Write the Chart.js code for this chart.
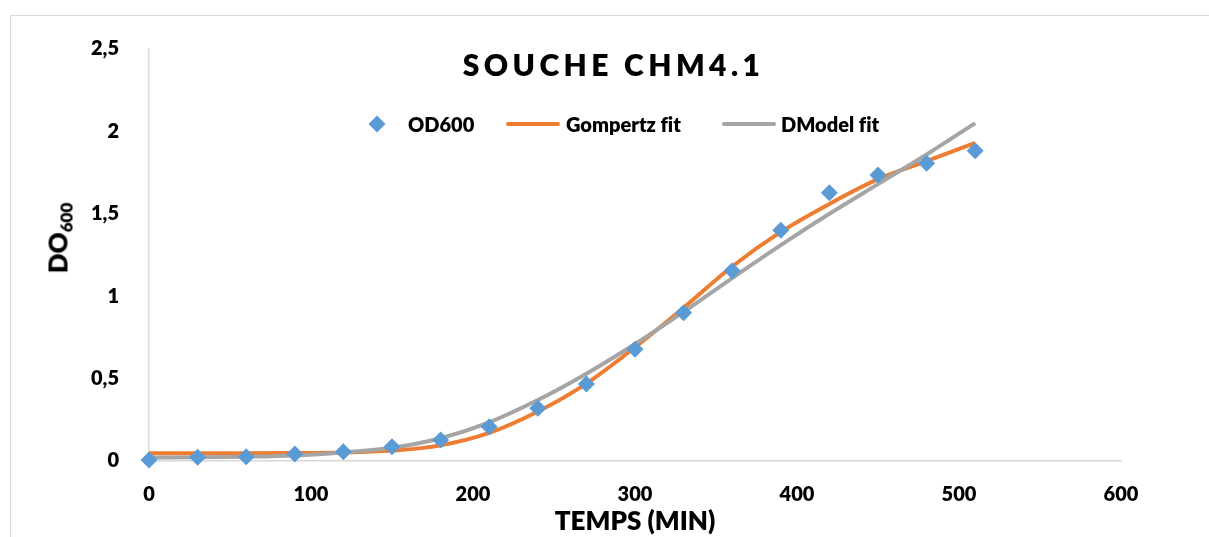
<!DOCTYPE html>
<html>
<head>
<meta charset="utf-8">
<script src="https://cdn.jsdelivr.net/npm/chart.js@4.4.1/dist/chart.umd.min.js"></script>
<style>
  html, body { margin: 0; padding: 0; background: #fff; overflow: hidden; }
  #wrap { position: relative; width: 1209px; height: 537px; font-family: Lato, "Open Sans", sans-serif; font-variant-ligatures: none; }
  #frame { position: absolute; left: 10px; top: 15px; width: 1240px; height: 560px; border: 1.5px solid #d9d9d9; box-sizing: border-box; }
  canvas { position: absolute; left: 0; top: 0; }
  .txt { position: absolute; font-weight: 800; color: #000; white-space: nowrap; }
  #title { left: 0; width: 1227px; top: 46px; text-align: center; font-size: 30px; letter-spacing: 4.4px; line-height: 36px; }
  #ytitle { left: 62px; top: 238px; font-size: 26px; line-height: 30px; transform: translate(-50%, -50%) rotate(-90deg); }
  #ytitle sub { font-size: 17px; vertical-align: -5px; }
  .leg { position: absolute; top: 124px; height: 0; }
  .leg span { position: absolute; font-weight: 800; font-size: 20px; line-height: 24px; top: -12px; white-space: nowrap; }
  .swatch-line { position: absolute; height: 4px; top: -2px; border-radius: 2px; }
  .swatch-dia { position: absolute; width: 12px; height: 12px; left: -6px; top: -6px; transform: rotate(45deg); }
</style>
</head>
<body>
<div id="wrap">
  <div id="frame"></div>
  <canvas id="chart" width="1209" height="537"></canvas>
  <div id="title" class="txt">SOUCHE CHM4.1</div>
  <div id="ytitle" class="txt">DO<sub>600</sub></div>
  <div id="legend"></div>
</div>
<script>
// Sampling times (min)
const times = [0, 30, 60, 90, 120, 150, 180, 210, 240, 270, 300, 330, 360, 390, 420, 450, 480, 510];
// Measured optical density
const od600 = [0.006, 0.022, 0.026, 0.042, 0.056, 0.087, 0.127, 0.208, 0.32, 0.467, 0.678, 0.90, 1.155, 1.40, 1.628, 1.735, 1.806, 1.883];
// Fitted curves evaluated at the same times
const gompertzFit = [0.047, 0.047, 0.047, 0.048, 0.051, 0.063, 0.095, 0.17, 0.30, 0.47, 0.69, 0.93, 1.18, 1.39, 1.56, 1.71, 1.82, 1.93];
const dmodelFit = [0.021, 0.022, 0.026, 0.034, 0.052, 0.08, 0.138, 0.235, 0.37, 0.53, 0.71, 0.905, 1.11, 1.31, 1.50, 1.68, 1.86, 2.05];

const xTicks = [0, 100, 200, 300, 400, 500, 600];
const yTicks = [0, 0.5, 1, 1.5, 2, 2.5];

const seriesNames = ['OD600', 'Gompertz fit', 'DModel fit'];
const colors = { od: '#5b9bd5', gompertz: '#ed7d31', dmodel: '#a5a5a5' };

const pts = (ys) => times.map((t, i) => ({ x: t, y: ys[i] }));
const fontFamily = 'Lato, "Open Sans", sans-serif';
const tickFont = { family: fontFamily, size: 20, weight: '800' };

new Chart(document.getElementById('chart'), {
  type: 'scatter',
  data: {
    datasets: [
      {
        label: seriesNames[0], data: pts(od600), clip: false,
        pointStyle: 'rectRot', pointRadius: 8.5, pointHoverRadius: 8.5,
        backgroundColor: colors.od, borderColor: colors.od, borderWidth: 0, showLine: false
      },
      {
        label: seriesNames[2], data: pts(dmodelFit), type: 'line', clip: false,
        borderColor: colors.dmodel, borderWidth: 4, pointRadius: 0, fill: false,
        cubicInterpolationMode: 'monotone'
      },
      {
        label: seriesNames[1], data: pts(gompertzFit), type: 'line', clip: false,
        borderColor: colors.gompertz, borderWidth: 4, pointRadius: 0, fill: false,
        cubicInterpolationMode: 'monotone'
      }
    ]
  },
  options: {
    responsive: false,
    animation: false,
    devicePixelRatio: 1,
    layout: { padding: { left: 0, top: 49, right: 88, bottom: 0 } },
    plugins: { legend: { display: false }, title: { display: false }, tooltip: { enabled: false } },
    scales: {
      x: {
        type: 'linear', min: 0, max: 600,
        afterFit: (s) => { s.height = 76; },
        afterBuildTicks: (s) => { s.ticks = xTicks.map(v => ({ value: v })); },
        grid: { display: false },
        border: { display: true, color: '#d9d9d9', width: 1.5 },
        ticks: { color: '#000', font: tickFont, padding: 14, maxRotation: 0 },
        title: { display: true, text: 'TEMPS (MIN)', color: '#000',
                 font: { family: fontFamily, size: 26, weight: '800' },
                 padding: { top: 0, bottom: 0 } }
      },
      y: {
        type: 'linear', min: 0, max: 2.5,
        afterFit: (s) => { s.width = 149; },
        afterBuildTicks: (s) => { s.ticks = yTicks.map(v => ({ value: v })); },
        grid: { display: false },
        border: { display: true, color: '#d9d9d9', width: 1.5 },
        ticks: { color: '#000', font: tickFont, padding: 22,
                 callback: (v) => String(v).replace('.', ',') }
      }
    }
  }
});

// Legend row
const legend = document.getElementById('legend');
const items = [
  { kind: 'dia', color: colors.od, markX: 377, textX: 408, text: seriesNames[0] },
  { kind: 'line', color: colors.gompertz, markX: 506, markW: 54, textX: 566, text: seriesNames[1] },
  { kind: 'line', color: colors.dmodel, markX: 722, markW: 54, textX: 781, text: seriesNames[2] }
];
items.forEach(it => {
  const row = document.createElement('div');
  row.className = 'leg';
  row.style.left = '0px';
  const m = document.createElement('div');
  if (it.kind === 'dia') {
    m.className = 'swatch-dia';
    m.style.left = (it.markX - 6) + 'px';
  } else {
    m.className = 'swatch-line';
    m.style.left = it.markX + 'px';
    m.style.width = it.markW + 'px';
  }
  m.style.background = it.color;
  const t = document.createElement('span');
  t.style.left = it.textX + 'px';
  t.textContent = it.text;
  row.appendChild(m);
  row.appendChild(t);
  legend.appendChild(row);
});
</script>
</body>
</html>
